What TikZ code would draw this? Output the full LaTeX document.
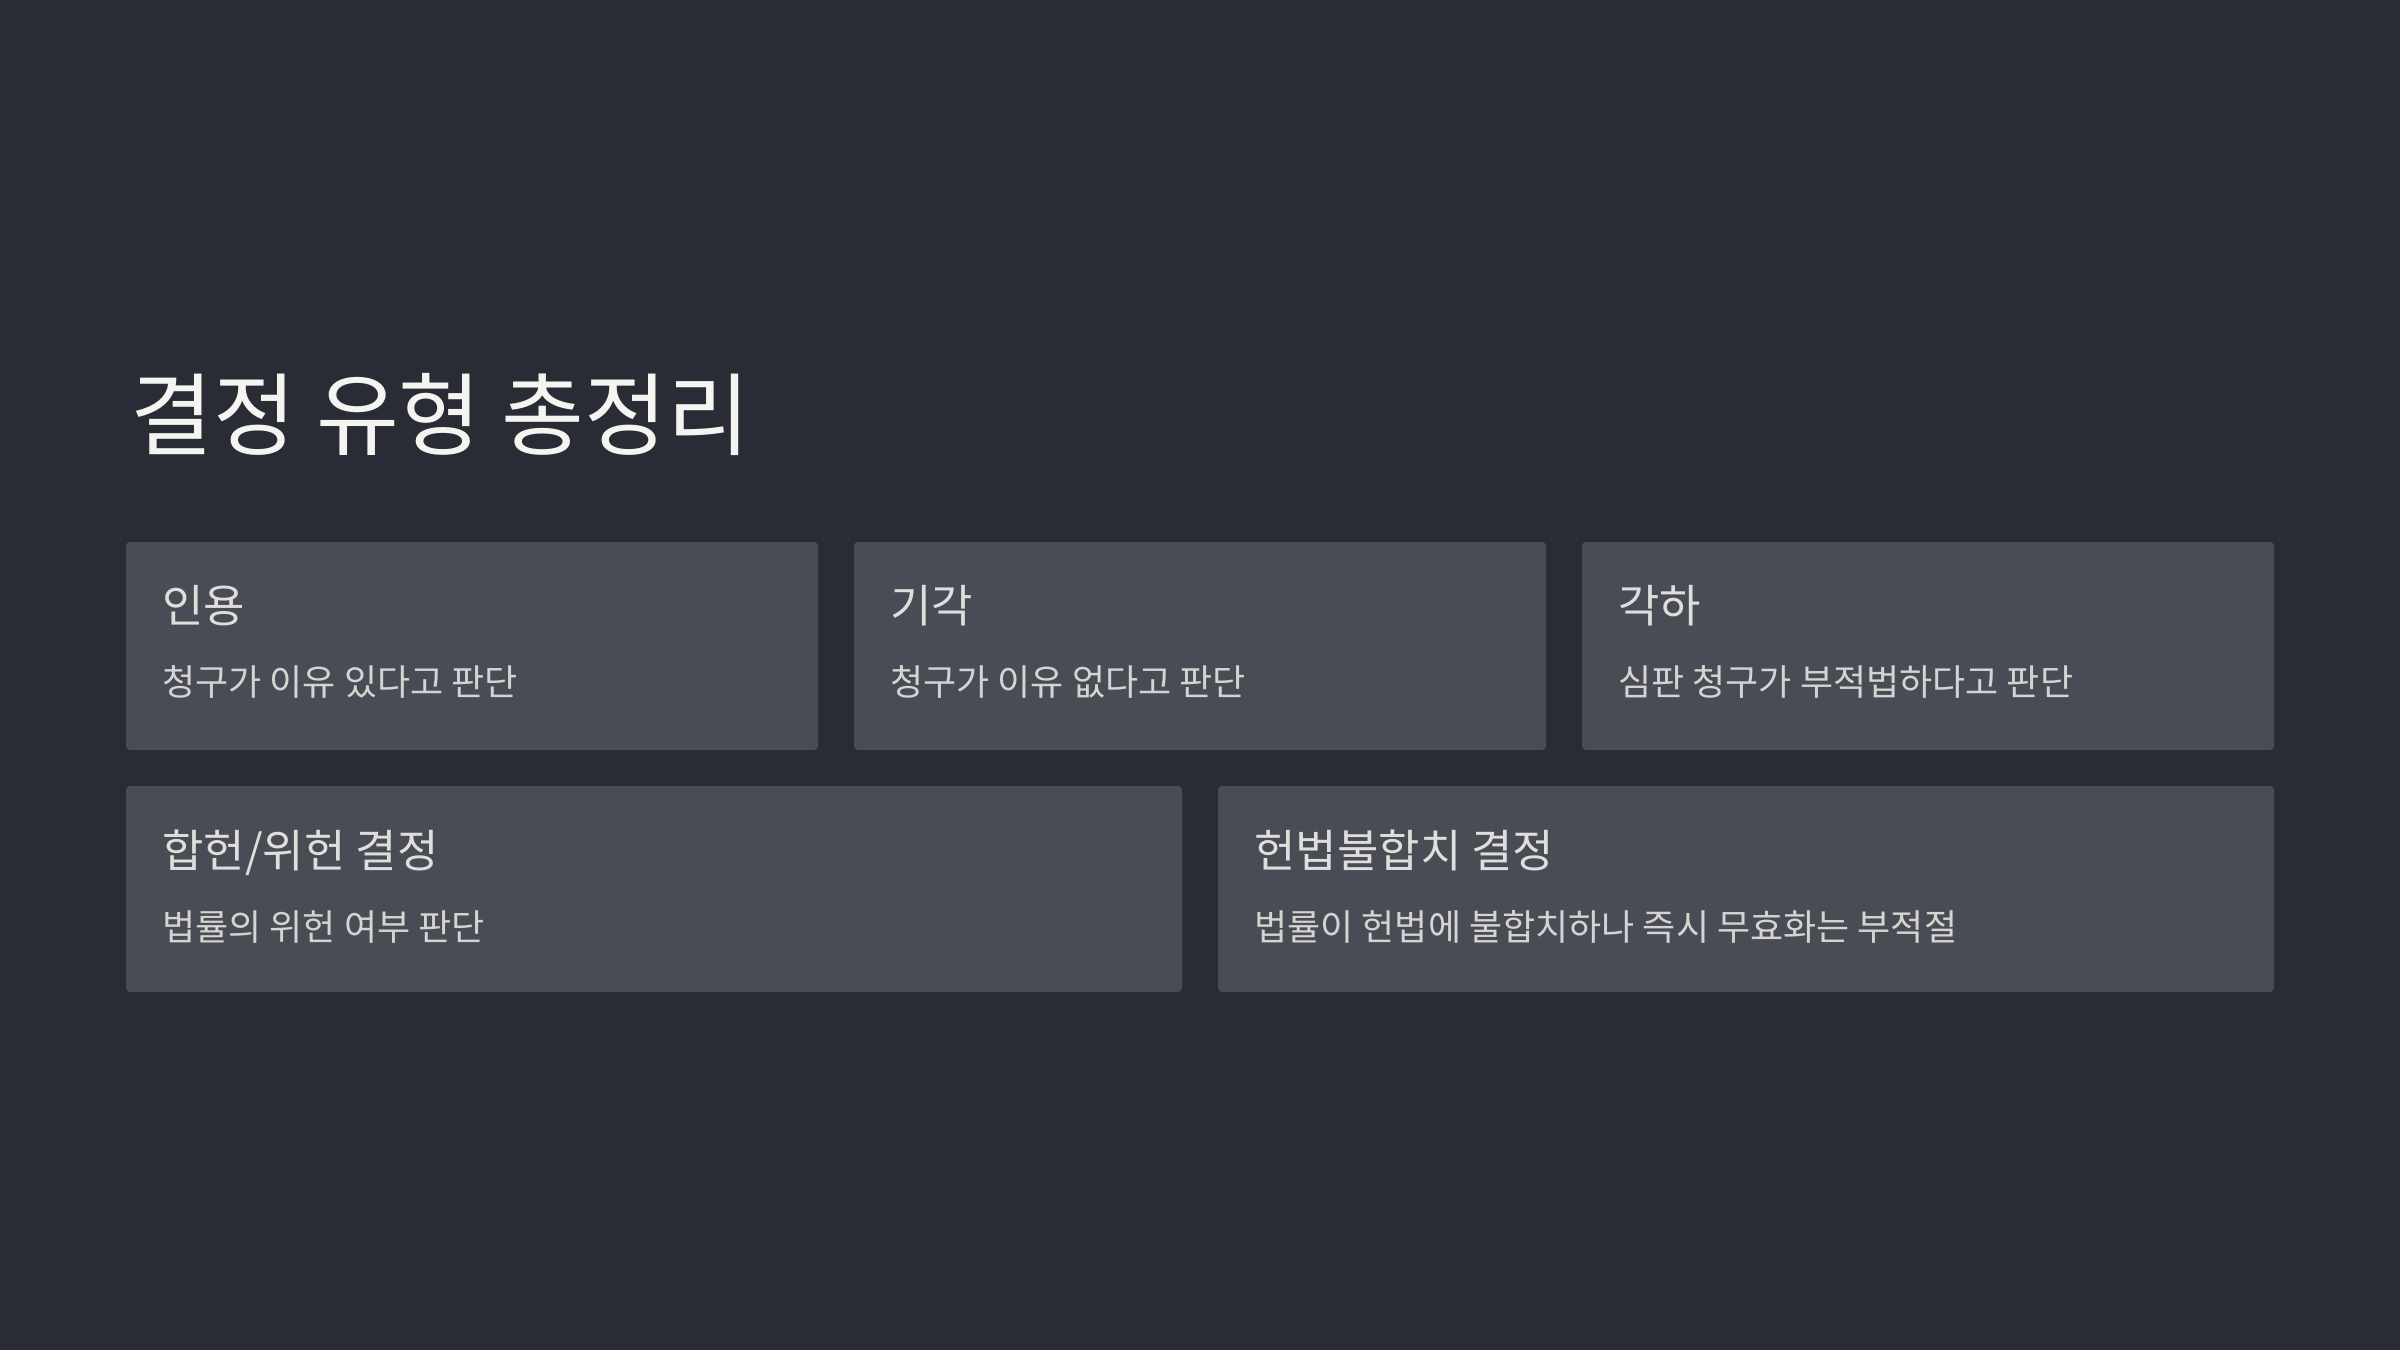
\documentclass[tikz,border=0pt]{standalone}
\usepackage{fontspec}
\setmainfont{Noto Sans CJK KR}
\newfontfamily\titlefont{Noto Sans CJK KR}
\newfontfamily\boxfont{Noto Sans CJK KR}
\definecolor{bgc}{HTML}{292C34}
\definecolor{boxc}{HTML}{494C54}
\definecolor{titlec}{HTML}{F4F4F0}
\definecolor{headc}{HTML}{DEDEDC}
\definecolor{subc}{HTML}{D4D4D2}
\tikzset{
  card/.style={fill=boxc, draw=none, rounded corners=2pt},
  cardhead/.style={anchor=base west, inner sep=0pt, text=headc, font=\boxfont\fontsize{22.5pt}{26pt}\selectfont},
  cardsub/.style={anchor=base west, inner sep=0pt, text=subc, font=\boxfont\fontsize{18pt}{22pt}\selectfont},
}
\begin{document}
\begin{tikzpicture}[x=0.5pt,y=-0.5pt]
\fill[bgc] (0,0) rectangle (2400,1350);
\useasboundingbox (0,0) rectangle (2400,1350);
\node[anchor=base west, inner sep=0pt, text=titlec, font=\titlefont\fontsize{45pt}{50pt}\selectfont] (title) at (130,448) {결정 유형 총정리};
% row 1
\fill[card] (126,542) rectangle (818,750);
\fill[card] (854,542) rectangle (1546,750);
\fill[card] (1582,542) rectangle (2274,750);
\node[cardhead] (h1) at (162,622) {인용};
\node[cardsub] (s1) at (162,695) {청구가 이유 있다고 판단};
\node[cardhead] (h2) at (890,622) {기각};
\node[cardsub] (s2) at (890,695) {청구가 이유 없다고 판단};
\node[cardhead] (h3) at (1618,622) {각하};
\node[cardsub] (s3) at (1618,695) {심판 청구가 부적법하다고 판단};
% row 2
\fill[card] (126,786) rectangle (1182,992);
\fill[card] (1218,786) rectangle (2274,992);
\node[cardhead] (h4) at (162,867) {합헌/위헌 결정};
\node[cardsub] (s4) at (162,940) {법률의 위헌 여부 판단};
\node[cardhead] (h5) at (1254,867) {헌법불합치 결정};
\node[cardsub] (s5) at (1254,940) {법률이 헌법에 불합치하나 즉시 무효화는 부적절};
\end{tikzpicture}
\end{document}
